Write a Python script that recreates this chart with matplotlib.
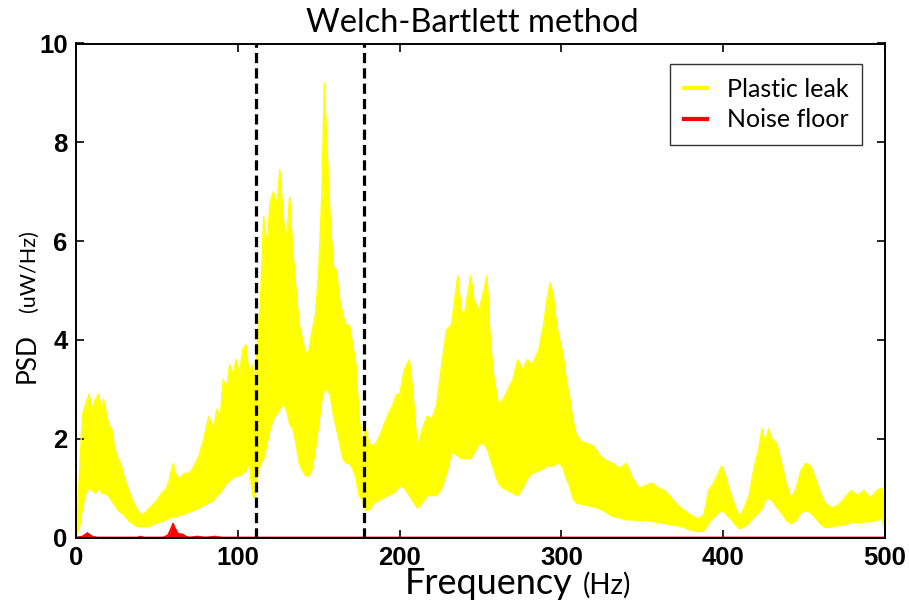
import matplotlib
matplotlib.use("Agg")
import matplotlib.pyplot as plt
from matplotlib.lines import Line2D

# Plastic leak PSD: envelope of the overlapping Welch estimates
freq = [0, 2, 4, 6, 8, 10, 12, 14, 16, 17, 20, 22, 24, 26, 28, 30, 32, 35, 38, 41,
        44, 47, 50, 53, 56, 58, 60, 62, 64, 67, 70, 73, 76, 79, 82, 85, 87, 89, 91, 93,
        95, 97, 99, 101, 103, 105, 107, 109, 110, 112, 114, 116, 118, 120, 122, 124, 126, 128, 130, 132,
        134, 136, 138, 140, 142, 144, 146, 148, 150, 152, 153.5, 155, 157, 159, 161, 163, 165, 167, 169, 171,
        173, 175, 177, 179, 181, 184, 187, 190, 193, 196, 198, 200, 203, 206, 208, 211, 214, 217, 220, 223,
        226, 229, 232, 234, 236, 238, 240, 242, 244, 246, 249, 252, 254, 256, 258, 261, 264, 267, 270, 273,
        276, 279, 282, 286, 289, 291, 293, 295, 297, 299, 301, 303, 305, 307, 309, 312, 316, 320, 324, 328,
        332, 336, 340, 344, 348, 352, 356, 360, 364, 368, 372, 376, 380, 384, 388, 391, 394, 397, 399, 401,
        404, 407, 410, 413, 416, 419, 422, 424, 426, 428, 430, 433, 436, 439, 442, 445, 448, 451, 454, 457,
        460, 463, 467, 471, 475, 479, 483, 487, 491, 495, 498, 500]
leak_low = [0.0, 0.2, 0.6, 0.9, 1.0, 0.95, 0.9, 1.0, 0.9, 0.9, 0.85, 0.75, 0.65, 0.55, 0.5, 0.45, 0.36, 0.28, 0.22, 0.22,
            0.22, 0.26, 0.29, 0.33, 0.36, 0.4, 0.42, 0.42, 0.45, 0.48, 0.52, 0.55, 0.6, 0.65, 0.7, 0.75, 0.85, 0.9, 1.0, 1.1,
            1.15, 1.2, 1.25, 1.25, 1.3, 1.35, 1.5, 0.9, 0.8, 1.2, 1.5, 1.6, 1.9, 2.2, 2.4, 2.5, 2.6, 2.7, 2.6, 2.3,
            2.2, 1.9, 1.5, 1.35, 1.25, 1.25, 1.4, 1.8, 2.3, 2.8, 3.0, 3.0, 2.9, 2.5, 2.2, 1.9, 1.6, 1.5, 1.5, 1.4,
            1.2, 0.85, 0.75, 0.55, 0.55, 0.7, 0.75, 0.8, 0.85, 0.9, 0.95, 1.05, 1.0, 0.85, 0.75, 0.6, 0.7, 0.85, 0.85, 0.85,
            1.0, 1.3, 1.7, 1.7, 1.65, 1.6, 1.6, 1.6, 1.6, 1.7, 1.9, 1.9, 1.8, 1.6, 1.4, 1.1, 1.0, 0.95, 0.9, 0.85,
            1.0, 1.2, 1.3, 1.35, 1.4, 1.45, 1.45, 1.45, 1.5, 1.5, 1.4, 1.2, 1.05, 0.8, 0.7, 0.68, 0.65, 0.62, 0.58, 0.5,
            0.42, 0.4, 0.36, 0.36, 0.35, 0.35, 0.33, 0.3, 0.28, 0.26, 0.24, 0.2, 0.15, 0.12, 0.13, 0.3, 0.4, 0.5, 0.55, 0.5,
            0.4, 0.28, 0.18, 0.22, 0.3, 0.42, 0.5, 0.6, 0.75, 0.8, 0.75, 0.62, 0.5, 0.35, 0.28, 0.35, 0.5, 0.55, 0.5, 0.4,
            0.28, 0.2, 0.22, 0.25, 0.25, 0.3, 0.3, 0.32, 0.32, 0.35, 0.4, 0.15]
leak_high = [0.0, 1.2, 2.5, 2.7, 2.9, 2.6, 2.8, 2.9, 2.5, 2.8, 2.3, 2.2, 1.8, 1.6, 1.45, 1.2, 1.0, 0.75, 0.55, 0.45,
             0.55, 0.65, 0.75, 0.9, 1.0, 1.2, 1.5, 1.25, 1.2, 1.3, 1.3, 1.45, 1.65, 2.0, 2.45, 2.2, 2.6, 2.4, 3.2, 3.0,
             3.5, 3.3, 3.6, 3.3, 3.8, 3.9, 3.3, 3.5, 3.0, 3.9, 4.8, 6.5, 5.9, 6.8, 7.0, 6.7, 7.45, 6.5, 6.0, 6.9,
             5.8, 5.0, 4.3, 4.0, 3.7, 3.8, 4.2, 4.5, 5.4, 7.0, 9.2, 8.0, 6.5, 5.5, 5.4, 4.8, 4.5, 4.3, 4.3, 3.9,
             3.5, 2.4, 1.9, 2.2, 1.9, 1.85, 2.0, 2.25, 2.5, 2.7, 2.9, 2.9, 3.4, 3.6, 3.0, 1.8, 2.2, 2.45, 2.4, 2.7,
             3.5, 4.2, 4.3, 4.8, 5.3, 4.6, 4.5, 4.9, 5.3, 4.8, 4.6, 5.0, 5.3, 4.0, 3.3, 2.7, 2.8, 3.0, 3.2, 3.6,
             3.4, 3.6, 3.5, 3.8, 4.3, 4.8, 5.15, 4.9, 4.3, 4.0, 3.7, 3.2, 2.85, 2.4, 2.1, 1.95, 1.9, 1.85, 1.65, 1.55,
             1.5, 1.4, 1.5, 1.2, 1.0, 1.05, 1.1, 1.0, 0.95, 0.8, 0.65, 0.55, 0.45, 0.38, 0.45, 0.95, 1.1, 1.3, 1.45, 1.3,
             0.95, 0.65, 0.42, 0.6, 0.85, 1.4, 1.8, 2.2, 1.9, 2.2, 2.0, 1.9, 1.5, 1.1, 0.78, 1.0, 1.35, 1.5, 1.45, 1.2,
             0.9, 0.7, 0.6, 0.65, 0.8, 0.95, 0.85, 0.95, 0.8, 0.95, 1.0, 0.7]

# Noise floor PSD (upper edge of the red traces)
noise_freq = [0, 4, 7, 10, 13, 38, 40, 42, 54, 57, 59, 60, 61, 63, 66, 68, 70, 75, 80, 86, 90, 500]
noise_psd = [0.0, 0.02, 0.09, 0.02, 0.0, 0.0, 0.02, 0.0, 0.0, 0.05, 0.2, 0.28, 0.2, 0.08, 0.06, 0.02, 0.0, 0.02, 0.0, 0.02, 0.0, 0.0]

band_edges = [111.5, 178]

YELLOW = "#ffff00"
RED = "#ff0000"
W, H = 909, 608

fig = plt.figure(figsize=(W / 100, H / 100), dpi=100)
ax = fig.add_axes([76 / W, 1 - 537.5 / H, (885 - 76) / W, (537.5 - 43.5) / H])

ax.fill_between(freq, leak_low, leak_high, color=YELLOW, linewidth=0)
ax.plot(freq, leak_high, color=YELLOW, lw=1.0)
ax.plot(freq, leak_low, color=YELLOW, lw=1.0)

ax.fill_between(noise_freq, 0, noise_psd, color=RED, linewidth=0)
ax.plot(noise_freq, noise_psd, color=RED, lw=1.2)
ax.plot([0, 500], [0, 0], color=RED, lw=1.6, solid_capstyle="butt")

for f in band_edges:
    ax.axvline(f, color="black", lw=2.3, linestyle=(0, (3.2, 1.6)))

ax.set_xlim(0, 500)
ax.set_ylim(0, 10)
ax.set_xticks([0, 100, 200, 300, 400, 500])
ax.set_yticks([0, 2, 4, 6, 8, 10])
ax.tick_params(direction="in", length=6, width=1.2, top=True, right=True,
               labelsize=18.5, pad=6)
for lab in ax.get_xticklabels() + ax.get_yticklabels():
    lab.set_fontfamily("Liberation Sans")
    lab.set_fontweight("bold")
for s in ax.spines.values():
    s.set_linewidth(1.4)

# legend
handles = [Line2D([], [], color=YELLOW, lw=3), Line2D([], [], color=RED, lw=3)]
leg = ax.legend(handles, ["Plastic leak", "Noise floor"], loc="upper right",
                bbox_to_anchor=((862 - 76) / (885 - 76), (537.5 - 64) / 494),
                prop={"family": "Lato", "size": 18}, frameon=True, fancybox=False,
                edgecolor="black", handlelength=0.9, handletextpad=0.8,
                borderpad=0.55, labelspacing=0.3, borderaxespad=0)
leg.get_frame().set_linewidth(1.0)

# title and axis labels in mixed sizes
fig.text(472 / W, 1 - 32 / H, "Welch-Bartlett method", family="Lato", size=23.5,
         ha="center", va="baseline")
fig.text(573 / W, 1 - 594 / H, "Frequency", family="Lato", size=26, ha="right", va="baseline")
fig.text(583 / W, 1 - 594 / H, "(Hz)", family="Lato", size=20, ha="left", va="baseline")
fig.text(27 / W, 1 - 383 / H, "PSD", family="Lato", size=19, rotation=90, ha="center", va="bottom")
fig.text(29 / W, 1 - 312 / H, "(uW/Hz)", family="Lato", size=15.5, rotation=90, ha="center", va="bottom")

fig.savefig("out.png", dpi=100)
